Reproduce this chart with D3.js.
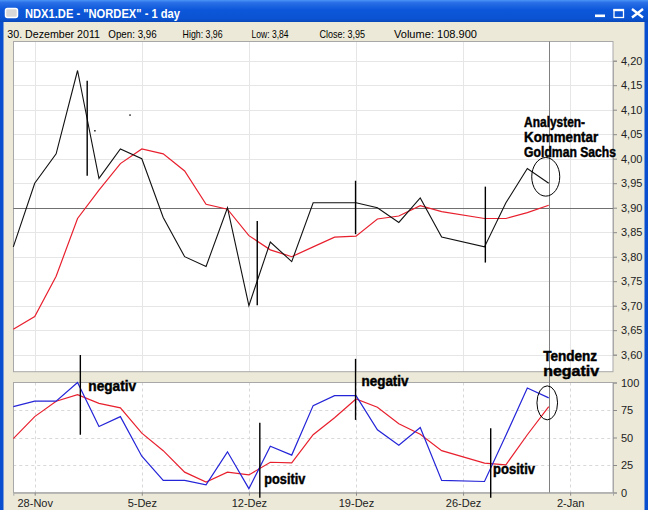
<!DOCTYPE html>
<html><head><meta charset="utf-8">
<script src="https://cdn.jsdelivr.net/npm/d3@7"></script>
<style>html,body{margin:0;padding:0;background:#ece9d8;overflow:hidden}svg{display:block}</style>
</head><body>
<svg id="c" width="648" height="510"></svg>
<script>
// ---------------- data ----------------
const dates = ["2011-11-25","2011-11-28","2011-11-29","2011-11-30","2011-12-01","2011-12-02",
  "2011-12-05","2011-12-06","2011-12-07","2011-12-08","2011-12-09",
  "2011-12-12","2011-12-13","2011-12-14","2011-12-15","2011-12-16",
  "2011-12-19","2011-12-20","2011-12-21","2011-12-22","2011-12-23",
  "2011-12-27","2011-12-28","2011-12-29","2011-12-30"];
const closes = [3.82,3.95,4.01,4.18,3.96,4.02, 4.00,3.88,3.80,3.78,3.90, 3.70,3.83,3.79,3.91,3.91,
  3.91,3.90,3.87,3.92,3.84, 3.82,3.91,3.98,3.95];
const movingAvg = [3.652,3.678,3.760,3.878,3.936,3.990, 4.020,4.010,3.975,3.907,3.897, 3.843,3.814,3.800,3.820,3.840,
  3.842,3.877,3.883,3.904,3.892, 3.878,3.878,3.890,3.905];
const stochK = [78,83,83,100,60,69, 33,11,11,7,37, 3.5,42,34,79,88, 88,57,43,59,11, 10,52,95,86];
const stochD = [49,69,83,89,81,77, 54,38,18.5,9.5,18.5, 16,27.5,27,52.5,68, 85,77.5,62.5,53,38, 26.7,25.2,52.5,78];
const priceTicks = [3.60,3.65,3.70,3.75,3.80,3.85,3.90,3.95,4.00,4.05,4.10,4.15,4.20];
const oscTicks = [0,25,50,75,100];
const weekDates = ["2011-11-28","2011-12-05","2011-12-12","2011-12-19","2011-12-26","2012-01-02"];
const weekLabels = ["28-Nov","5-Dez","12-Dez","19-Dez","26-Dez","2-Jan"];
const titleText = "NDX1.DE - \"NORDEX\" - 1 day";
const infoLabels = ["30. Dezember 2011","Open: 3,96","High: 3,96","Low: 3,84","Close: 3,95","Volume: 108.900"];
const crossValue = 3.90;
const crossDate = "2011-12-30";
// hand-drawn annotations (slot index, values)
const mainStrokes = [{s:3.45,a:4.159,b:3.965},{s:11.39,a:3.873,b:3.701},{s:15.98,a:3.955,b:3.846},{s:22.04,a:3.943,b:3.788}];
const oscStrokes = [{s:3.13,a:125,b:52.5},{s:11.51,a:63.4,b:-4.7},{s:15.98,a:121.5,b:66},{s:22.29,a:58.5,b:-4.7}];
const mainNotes = [{t:"Analysten-",s:23.85,v:4.0653,w:61,f:14},{t:"Kommentar",s:23.85,v:4.0347,w:74,f:14},{t:"Goldman Sachs",s:23.85,v:4.0029,w:92,f:14}];
const oscNotes = [{t:"negativ",s:3.50,v:92.3,w:48,f:14},{t:"positiv",s:11.72,v:7.5,w:41,f:14},
  {t:"negativ",s:16.26,v:96.8,w:47,f:14},{t:"positiv",s:22.40,v:16.5,w:42,f:14},
  {t:"Tendenz",s:24.74,v:119.6,w:54,f:14},{t:"negativ",s:24.74,v:105.5,w:56,f:14}];
const mainCircle = {s:24.86,v:3.963,rx:14,ry:19.3};
const oscCircle = {s:24.93,v:81.5,rx:10.3,ry:17};
const specks = [{s:3.81,v:4.057},{s:5.45,v:4.089}];

// ---------------- layout ----------------
const svg = d3.select("#c");
const L = 13.3, R = 613;
const mainTop = 41.5, mainBot = 371.7, oscTop = 382.5, oscBot = 492.7;
const parse = d3.utcParse("%Y-%m-%d"), fmtD = d3.utcFormat("%Y-%m-%d");
const slots = d3.utcDay.range(parse("2011-11-25"), parse("2012-01-05")).filter(d => d.getUTCDay() % 6 !== 0);
const slotIdx = new Map(slots.map((d,i) => [fmtD(d), i]));
const x = d3.scaleLinear().domain([0, slots.length - 1]).range([L, R]);
const xd = d => x(slotIdx.get(d));
const yMain = d3.scaleLinear().domain([3.60, 4.20]).range([354.7, 60.7]);
const yOsc = d3.scaleLinear().domain([0, 100]).range([492.5, 382.5]);
const comma = d3.formatLocale({decimal:",", thousands:".", grouping:[3], currency:["","€"]});
const f2 = comma.format(".2f");
const FONT = "'Liberation Sans', Arial, sans-serif";
const NARROW = "'Liberation Sans Narrow', 'Arial Narrow', 'Liberation Sans', sans-serif";

// ---------------- window chrome ----------------
const defs = svg.append("defs");
const g1 = defs.append("linearGradient").attr("id","tb").attr("x1",0).attr("y1",0).attr("x2",0).attr("y2",1);
[[0,"#4a95f7"],[0.12,"#2a6fe6"],[0.45,"#0c57da"],[0.85,"#0a53d2"],[1,"#0a47b8"]].forEach(s => g1.append("stop").attr("offset",s[0]).attr("stop-color",s[1]));
svg.append("rect").attr("x",0).attr("y",0).attr("width",648).attr("height",510).attr("fill","#ece9d8");
svg.append("rect").attr("x",0).attr("y",0).attr("width",648).attr("height",22).attr("fill","url(#tb)");
svg.append("rect").attr("x",0).attr("y",22).attr("width",3.5).attr("height",488).attr("fill","#0a4ed0");
svg.append("rect").attr("x",644.5).attr("y",22).attr("width",3.5).attr("height",488).attr("fill","#0a4ed0");
// icon
svg.append("rect").attr("x",5.5).attr("y",8.5).attr("width",12).attr("height",9).attr("rx",2).attr("fill","#d8d8d8").attr("stroke","#fff").attr("stroke-width",1.5);
svg.append("text").attr("x",25).attr("y",17.5).attr("fill","#fff").attr("font-family",FONT).attr("font-weight","bold")
  .attr("font-size",12.5).attr("textLength",155).attr("lengthAdjust","spacingAndGlyphs").text(titleText);
// buttons
svg.append("rect").attr("x",595).attr("y",14.5).attr("width",10).attr("height",2.6).attr("fill","#fff");
svg.append("rect").attr("x",614).attr("y",9.5).attr("width",9.5).attr("height",8).attr("fill","none").attr("stroke","#fff").attr("stroke-width",1.3);
svg.append("rect").attr("x",613.5).attr("y",9).attr("width",10.5).attr("height",2.2).attr("fill","#fff");
svg.append("path").attr("d","M632,9 L643,17.5 M643,9 L632,17.5").attr("stroke","#fff").attr("stroke-width",2.4);
// info line
const infoX = [7.3,108.3,182.6,251.5,319.5,394], infoW = [92.7,48.4,40,37,45.6,83];
svg.selectAll("text.info").data(infoLabels).join("text").attr("class","info")
  .attr("x",(d,i)=>infoX[i]).attr("y",38).attr("font-family",FONT).attr("font-size",11).attr("fill","#000")
  .attr("textLength",(d,i)=>infoW[i]).attr("lengthAdjust","spacingAndGlyphs").text(d=>d);

// ---------------- panels ----------------
svg.append("rect").attr("x",L).attr("y",mainTop).attr("width",R-L).attr("height",mainBot-mainTop).attr("fill","#fff");
svg.append("rect").attr("x",L).attr("y",oscTop).attr("width",R-L).attr("height",oscBot-oscTop).attr("fill","#fff");

// main grid
svg.append("g").selectAll("line").data(priceTicks).join("line")
  .attr("x1",L).attr("x2",R).attr("y1",d=>Math.round(yMain(d))+0.5).attr("y2",d=>Math.round(yMain(d))+0.5)
  .attr("stroke","#e6e6e6");
svg.append("g").selectAll("line").data(weekDates).join("line")
  .attr("x1",d=>Math.round(xd(d))+0.5).attr("x2",d=>Math.round(xd(d))+0.5).attr("y1",mainTop).attr("y2",mainBot)
  .attr("stroke","#e6e6e6");
// osc grid (dashed)
svg.append("g").selectAll("line").data([25,50,75]).join("line")
  .attr("x1",L).attr("x2",R).attr("y1",d=>Math.round(yOsc(d))+0.5).attr("y2",d=>Math.round(yOsc(d))+0.5)
  .attr("stroke","#d8d8d8").attr("stroke-dasharray","3,3");
svg.append("g").selectAll("line").data(weekDates).join("line")
  .attr("x1",d=>Math.round(xd(d))+0.5).attr("x2",d=>Math.round(xd(d))+0.5).attr("y1",oscTop).attr("y2",oscBot)
  .attr("stroke","#d8d8d8").attr("stroke-dasharray","3,3");

// panel borders
svg.append("rect").attr("x",L+0.2).attr("y",mainTop).attr("width",R-L-0.2).attr("height",mainBot-mainTop).attr("fill","none").attr("stroke","#a8a8a8");
svg.append("rect").attr("x",L+0.2).attr("y",oscTop).attr("width",R-L-0.2).attr("height",oscBot-oscTop).attr("fill","none").attr("stroke","#a8a8a8");

// crosshair
svg.append("line").attr("x1",L).attr("x2",R).attr("y1",Math.round(yMain(crossValue))+0.5).attr("y2",Math.round(yMain(crossValue))+0.5).attr("stroke","#707070");
svg.append("line").attr("x1",Math.round(xd(crossDate))+0.5).attr("x2",Math.round(xd(crossDate))+0.5).attr("y1",mainTop).attr("y2",oscBot).attr("stroke","#808080");

// ---------------- series ----------------
const pts = (vals, ys) => dates.map((d,i)=>[xd(d), ys(vals[i])]);
const line = d3.line();
svg.append("path").attr("d",line(pts(movingAvg,yMain))).attr("fill","none").attr("stroke","#e8202e").attr("stroke-width",1.2);
svg.append("path").attr("d",line(pts(closes,yMain))).attr("fill","none").attr("stroke","#111").attr("stroke-width",1.1);
svg.append("path").attr("d",line(pts(stochD,yOsc))).attr("fill","none").attr("stroke","#e8202e").attr("stroke-width",1.2);
svg.append("path").attr("d",line(pts(stochK,yOsc))).attr("fill","none").attr("stroke","#2424d8").attr("stroke-width",1.2);

// ---------------- axes ----------------
const axR = svg.append("g").attr("transform",`translate(${R},0)`)
  .call(d3.axisRight(yMain).tickValues(priceTicks).tickSize(4).tickPadding(4).tickFormat(f2));
const axO = svg.append("g").attr("transform",`translate(${R},0)`)
  .call(d3.axisRight(yOsc).tickValues(oscTicks).tickSize(4).tickPadding(4).tickFormat(d3.format("d")));
const axB = svg.append("g").attr("transform",`translate(0,${oscBot})`)
  .call(d3.axisBottom(x).tickValues(weekDates.map(d=>slotIdx.get(d))).tickSize(3).tickPadding(3.5).tickFormat((d,i)=>weekLabels[i]));
[axR,axO,axB].forEach(a=>{
  a.select(".domain").attr("stroke","#a8a8a8");
  a.selectAll(".tick line").attr("stroke","#8a8a8a");
  a.selectAll("text").attr("font-family",FONT).attr("font-size",11).attr("fill","#222");
});

// ---------------- annotations ----------------
svg.append("g").selectAll("line").data(mainStrokes).join("line")
  .attr("x1",d=>x(d.s)).attr("x2",d=>x(d.s)).attr("y1",d=>yMain(d.a)).attr("y2",d=>yMain(d.b))
  .attr("stroke","#000").attr("stroke-width",1.4);
svg.append("g").selectAll("line").data(oscStrokes).join("line")
  .attr("x1",d=>x(d.s)).attr("x2",d=>x(d.s)).attr("y1",d=>yOsc(d.a)).attr("y2",d=>yOsc(d.b))
  .attr("stroke","#000").attr("stroke-width",1.4);
svg.append("g").selectAll("rect").data(specks).join("rect")
  .attr("x",d=>x(d.s)-0.7).attr("y",d=>yMain(d.v)-0.7).attr("width",1.4).attr("height",1.4).attr("fill","#000");
svg.append("ellipse").attr("cx",x(mainCircle.s)).attr("cy",yMain(mainCircle.v)).attr("rx",mainCircle.rx).attr("ry",mainCircle.ry)
  .attr("fill","none").attr("stroke","#000").attr("stroke-width",1);
svg.append("ellipse").attr("cx",x(oscCircle.s)).attr("cy",yOsc(oscCircle.v)).attr("rx",oscCircle.rx).attr("ry",oscCircle.ry)
  .attr("fill","none").attr("stroke","#000").attr("stroke-width",1);
// condensed bold notes: scale horizontally to the measured width
function notes(data, ys) {
  svg.append("g").selectAll("text").data(data).join("text")
    .attr("x",0).attr("y",0).attr("font-family",NARROW).attr("font-weight","bold").attr("font-size",d=>d.f)
    .attr("stroke","#000").attr("stroke-width",0.45).attr("fill","#000").text(d=>d.t)
    .each(function(d){
      const len = this.getComputedTextLength() || d.w;
      d3.select(this).attr("transform",`translate(${x(d.s)},${ys(d.v)}) scale(${d.w/len},1)`);
    });
}
notes(mainNotes, yMain);
notes(oscNotes, yOsc);
</script>
</body></html>
